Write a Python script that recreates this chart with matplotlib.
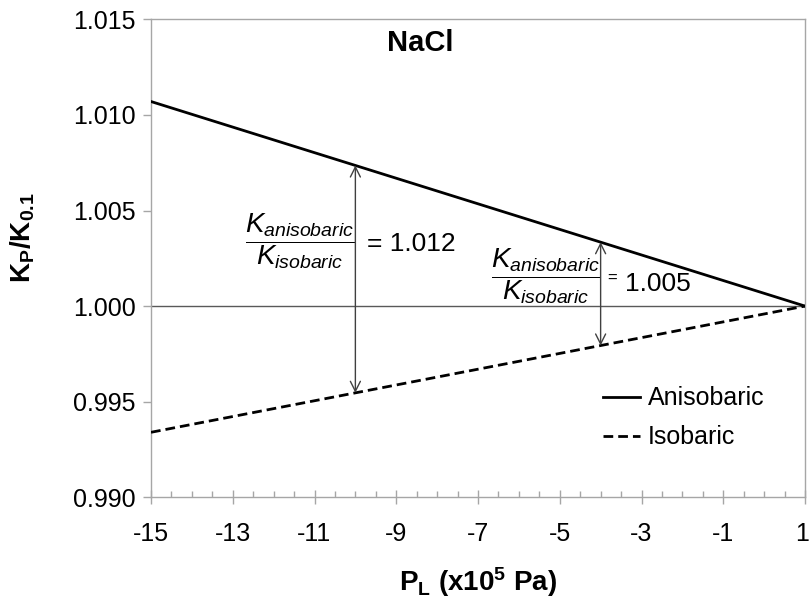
import matplotlib
matplotlib.use('Agg')
import matplotlib.pyplot as plt
import matplotlib.transforms as mtransforms
import numpy as np
from matplotlib.ticker import FixedLocator, MultipleLocator

plt.rcParams['font.family'] = ['Liberation Sans', 'DejaVu Sans']
plt.rcParams['mathtext.fontset'] = 'custom'
plt.rcParams['mathtext.rm'] = 'Liberation Sans'
plt.rcParams['mathtext.it'] = 'Liberation Sans:italic'
plt.rcParams['mathtext.bf'] = 'Liberation Sans:bold'
plt.rcParams['axes.unicode_minus'] = False

# ---- data ----
pressure = [-15, 1]
anisobaric = [1.0107, 1.0000]
isobaric = [0.9934, 1.0000]
arrow_x = [-10, -4]
ratio_labels = ['1.012', '1.005']
x_ticks = [-15, -13, -11, -9, -7, -5, -3, -1, 1]
x_tick_labels = ['-15', '-13', '-11', '-9', '-7', '-5', '-3', '-1', '1']
y_ticks = [0.990, 0.995, 1.000, 1.005, 1.010, 1.015]
y_tick_labels = ['0.990', '0.995', '1.000', '1.005', '1.010', '1.015']

W, H = 809, 601
fig = plt.figure(figsize=(W / 100, H / 100), dpi=100)
ax = fig.add_axes([151 / W, 1 - 497.3 / H, 654 / W, 478 / H])

ax.plot(pressure, anisobaric, color='black', lw=2.0, label='Anisobaric', zorder=3)
ax.plot(pressure, isobaric, color='black', lw=2.0, linestyle=(0, (3.5, 1.8)),
        label='Isobaric', zorder=3)
ax.axhline(1.0, color='#595959', lw=1.0, zorder=2)

ax.set_xlim(-15, 1)
ax.set_ylim(0.990, 1.015)

ax.xaxis.set_major_locator(FixedLocator(x_ticks))
ax.set_xticklabels(x_tick_labels)
ax.xaxis.set_minor_locator(MultipleLocator(0.5))
ax.yaxis.set_major_locator(FixedLocator(y_ticks))
ax.set_yticklabels(y_tick_labels)

gray = '#a6a6a6'
for s in ax.spines.values():
    s.set_color(gray)
    s.set_linewidth(1.0)

ax.tick_params(axis='x', which='major', direction='inout', length=10, width=1.0,
               color=gray, labelsize=18, pad=13, top=False)
ax.tick_params(axis='x', which='minor', direction='in', length=4.5, width=1.0,
               color=gray, top=False)
ax.tick_params(axis='y', which='major', direction='out', length=5.8, width=1.0,
               color=gray, labelsize=18, pad=5, right=False)

# keep the last x tick label inside the canvas
last = ax.get_xticklabels()[-1]
last.set_transform(last.get_transform() +
                   mtransforms.ScaledTranslation(-3 / 100, 0, fig.dpi_scale_trans))

# arrows between curves
for xa in arrow_x:
    top = np.interp(xa, pressure, anisobaric)
    bot = np.interp(xa, pressure, isobaric)
    ax.annotate('', xy=(xa, top), xytext=(xa, bot),
                arrowprops=dict(arrowstyle='<->,head_length=0.6,head_width=0.3',
                                color='#404040', lw=1.0, shrinkA=0, shrinkB=0,
                                mutation_scale=12), zorder=4)

frac = r'$\dfrac{K_{anisobaric}}{K_{isobaric}}$'
ax.text(-11.36, 1.0034, frac, fontsize=20, ha='center', va='center')
ax.text(-9.72, 1.0029, '= ' + ratio_labels[0], fontsize=19, ha='left', va='baseline')
ax.text(-5.35, 1.00159, frac, fontsize=20, ha='center', va='center')
ax.text(-3.84, 1.00147, '=', fontsize=12, ha='left', va='center')
ax.text(-3.40, 1.00079, ratio_labels[1], fontsize=19, ha='left', va='baseline')

ax.text(-8.42, 1.01376, 'NaCl', fontsize=21, fontweight='bold', ha='center', va='center')

ax.legend(loc='center left', bbox_to_anchor=(0.691, 0.166), frameon=False,
          fontsize=18, handlelength=1.48, handletextpad=0.32, labelspacing=0.6,
          borderpad=0, borderaxespad=0)

fig.text(477.5 / W, 1 - 590.7 / H, r'P$_\mathbf{L}$ (x10$^\mathbf{5}$ Pa)',
         fontsize=20, fontweight='bold', ha='center', va='baseline')
fig.text(30.5 / W, 1 - 238 / H, r'K$_\mathbf{P}$/K$_\mathbf{0.1}$',
         fontsize=20, fontweight='bold', ha='center', va='baseline',
         rotation=90, rotation_mode='anchor')

fig.savefig('out.png', dpi=100)
